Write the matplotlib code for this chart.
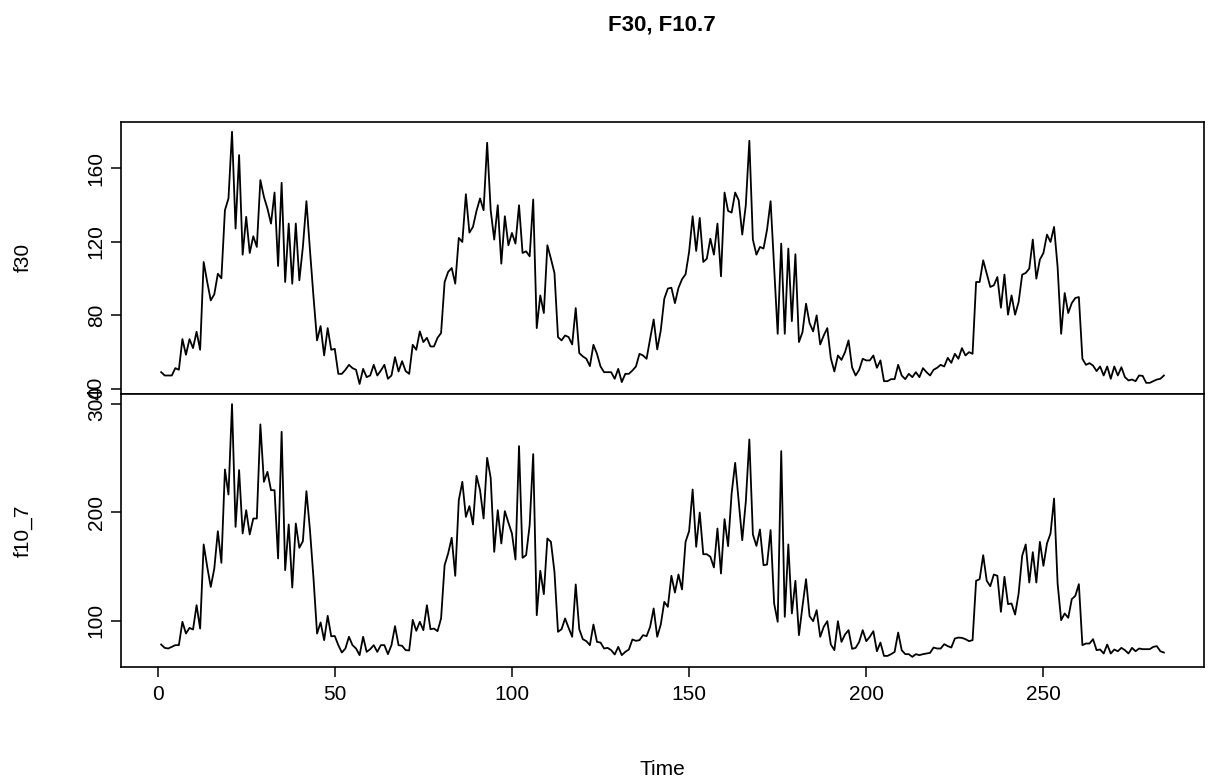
import matplotlib
matplotlib.use("Agg")
import matplotlib.pyplot as plt
import numpy as np

plt.rcParams['font.family'] = ['Liberation Sans', 'DejaVu Sans']

# monthly series, time index 1..284
f30 = [48.9, 47.1, 47.1, 47.1, 51.1, 50.2, 66.9, 58.4, 66.9, 62.0,
       70.9, 61.1, 108.9, 98.0, 88.0, 91.3, 102.5, 100.0, 137.1, 143.5,
       179.8, 127.1, 167.1, 112.9, 133.5, 113.8, 122.9, 117.1, 153.5, 144.4,
       138.0, 129.8, 146.7, 106.7, 152.0, 98.0, 129.8, 97.1, 129.8, 98.9,
       117.1, 142.0, 115.3, 89.8, 66.2, 74.0, 58.0, 72.9, 61.1, 61.6,
       48.0, 48.0, 50.2, 52.9, 51.1, 50.2, 42.5, 50.7, 46.2, 47.1,
       52.9, 47.1, 49.8, 52.9, 45.3, 47.1, 57.1, 49.3, 54.9, 49.5,
       48.0, 63.8, 61.1, 71.1, 65.3, 67.6, 62.9, 62.9, 67.6, 70.2,
       98.0, 103.5, 105.6, 97.1, 122.0, 119.8, 145.8, 124.9, 128.0, 136.7,
       143.5, 137.1, 173.8, 137.1, 121.1, 139.8, 108.0, 133.8, 118.0, 124.7,
       118.9, 139.8, 113.8, 114.7, 112.0, 142.9, 72.9, 90.7, 81.1, 118.0,
       110.7, 102.9, 68.0, 66.2, 68.9, 68.0, 64.0, 83.8, 59.3, 57.5,
       56.2, 52.2, 63.8, 58.9, 52.0, 48.9, 48.9, 48.9, 45.3, 50.7,
       43.5, 48.0, 48.0, 49.8, 52.0, 58.9, 58.0, 56.2, 67.1, 77.6,
       61.3, 71.6, 88.9, 94.4, 94.9, 86.5, 94.8, 99.5, 102.2, 114.4,
       133.8, 114.9, 132.9, 108.9, 110.7, 121.6, 112.9, 129.8, 101.1, 146.7,
       136.7, 135.8, 146.7, 142.5, 123.8, 139.8, 174.9, 121.1, 112.9, 117.1,
       116.2, 126.5, 142.0, 106.2, 69.8, 118.9, 69.8, 116.2, 76.7, 113.1,
       65.3, 70.7, 86.2, 75.6, 71.1, 79.8, 64.0, 68.9, 72.9, 56.5,
       49.3, 58.0, 55.6, 59.8, 66.2, 51.5, 47.1, 50.2, 56.2, 55.3,
       55.3, 58.0, 51.3, 55.3, 44.0, 44.0, 45.1, 45.1, 52.9, 47.1,
       45.1, 48.0, 46.2, 48.9, 46.2, 51.1, 48.9, 47.1, 50.2, 51.3,
       52.9, 52.0, 56.7, 54.0, 58.9, 56.2, 62.0, 58.0, 59.8, 58.9,
       98.0, 98.0, 109.8, 102.5, 95.3, 96.2, 100.7, 84.0, 102.0, 80.2,
       90.7, 80.2, 87.1, 102.0, 102.9, 105.3, 121.1, 99.8, 110.2, 113.8,
       123.8, 119.8, 128.0, 106.2, 69.8, 92.0, 81.1, 86.5, 89.3, 89.8,
       56.2, 52.9, 53.8, 52.5, 49.5, 52.0, 47.1, 52.0, 45.3, 52.0,
       47.1, 51.6, 46.2, 44.4, 44.9, 44.0, 47.1, 46.9, 43.1, 43.1,
       44.0, 44.9, 45.3, 47.1]

f10_7 = [78.2, 75.1, 74.5, 76.0, 77.6, 77.6, 99.1, 88.3, 93.5, 92.0,
         114.4, 92.9, 170.4, 149.8, 131.3, 148.2, 182.6, 153.5, 239.5, 216.4,
         299.7, 186.6, 238.9, 180.5, 202.0, 179.6, 194.3, 194.3, 281.0, 228.1,
         237.3, 220.4, 220.4, 157.5, 274.2, 146.7, 188.8, 130.7, 189.7, 167.3,
         173.4, 219.5, 183.6, 139.0, 88.3, 98.5, 82.2, 104.6, 85.8, 86.0,
         77.6, 70.8, 74.5, 85.3, 77.6, 74.5, 68.4, 85.3, 71.4, 73.9,
         77.6, 71.4, 77.6, 77.6, 69.3, 77.6, 95.1, 77.6, 77.0, 73.0,
         72.7, 100.9, 90.8, 99.1, 91.4, 114.4, 92.3, 92.9, 90.5, 102.2,
         151.3, 162.1, 176.5, 141.5, 211.2, 228.1, 195.8, 205.7, 188.8, 233.6,
         220.4, 194.3, 250.2, 231.8, 163.6, 202.0, 171.3, 201.1, 190.5, 180.5,
         156.5, 261.0, 158.1, 160.5, 188.2, 253.6, 105.2, 146.1, 124.6, 175.9,
         172.8, 145.2, 89.9, 92.3, 102.2, 93.5, 85.3, 133.5, 92.3, 83.1,
         81.3, 77.6, 96.6, 80.6, 80.0, 74.5, 75.1, 73.0, 69.0, 76.0,
         68.4, 71.4, 73.6, 82.8, 81.6, 82.2, 86.8, 85.9, 94.5, 111.4,
         85.3, 96.6, 117.5, 112.9, 141.5, 126.1, 142.7, 128.9, 172.8, 182.6,
         221.0, 168.2, 199.8, 161.4, 161.4, 159.0, 149.2, 185.1, 143.6, 193.7,
         168.8, 217.4, 245.6, 209.7, 174.3, 209.7, 267.1, 179.6, 169.1, 184.2,
         151.3, 151.9, 183.6, 116.0, 99.1, 256.4, 103.7, 170.4, 106.8, 136.9,
         86.8, 113.5, 138.4, 104.3, 99.7, 109.8, 85.3, 94.5, 99.7, 78.2,
         73.0, 99.7, 80.6, 87.4, 91.4, 74.2, 75.1, 80.6, 91.4, 81.3,
         85.3, 90.5, 72.0, 80.0, 67.7, 67.7, 69.3, 71.4, 89.2, 73.0,
         69.3, 69.3, 66.8, 69.3, 68.4, 69.3, 69.9, 70.5, 75.4, 74.5,
         74.5, 78.5, 76.7, 75.4, 83.7, 84.6, 84.3, 83.1, 81.3, 82.2,
         136.9, 138.4, 160.5, 136.9, 131.9, 142.7, 141.5, 108.3, 140.6, 115.4,
         116.0, 105.8, 125.2, 159.9, 170.4, 135.3, 163.3, 135.3, 172.8, 150.7,
         171.3, 180.5, 212.7, 134.4, 100.6, 106.8, 102.8, 120.0, 123.0, 133.8,
         77.6, 79.1, 79.1, 83.1, 73.0, 73.6, 69.9, 78.2, 69.9, 73.6,
         72.0, 75.1, 73.0, 69.9, 75.1, 72.0, 74.5, 73.9, 73.9, 73.9,
         76.0, 76.7, 72.0, 70.8]

time = np.arange(1, len(f30) + 1)

fig = plt.figure(figsize=(12.08, 7.79), dpi=100)
ax1 = fig.add_axes([0.1002, 0.4942, 0.8965, 0.3496])
ax2 = fig.add_axes([0.1002, 0.1438, 0.8965, 0.3504], sharex=ax1)

ax1.plot(time, f30, color='black', lw=1.3)
ax2.plot(time, f10_7, color='black', lw=1.3)

for ax in (ax1, ax2):
    ax.margins(x=0.04, y=0.04)
    for s in ax.spines.values():
        s.set_linewidth(1.2)
    ax.tick_params(axis='y', labelsize=15, length=7, width=1.1, pad=4)

ax1.set_yticks([40, 80, 120, 160])
ax2.set_yticks([100, 200, 300])
for ax in (ax1, ax2):
    plt.setp(ax.get_yticklabels(), rotation=90, va='center')

ax1.tick_params(axis='x', bottom=False, labelbottom=False)
ax2.set_xticks([0, 50, 100, 150, 200, 250])
ax2.tick_params(axis='x', labelsize=15, length=7, width=1.1, pad=6)

ax1.set_ylabel('f30', fontsize=15)
ax2.set_ylabel('f10_7', fontsize=15)
ax1.yaxis.set_label_coords(-0.0815, 0.5)
ax2.yaxis.set_label_coords(-0.0815, 0.5)
ax2.set_xlabel('Time', fontsize=15, labelpad=40)

fig.suptitle('F30, F10.7', fontsize=16, fontweight='bold', x=0.548, y=0.982)

fig.savefig('out.png', dpi=100)
